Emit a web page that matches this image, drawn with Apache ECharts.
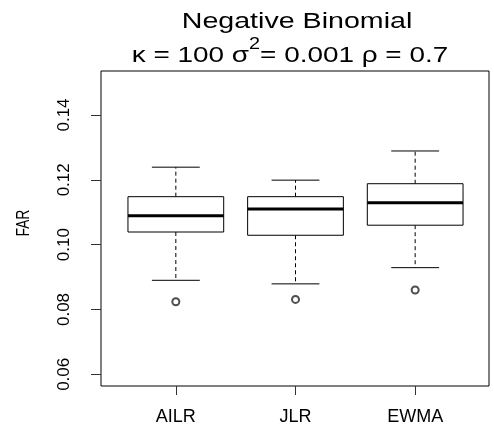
<!DOCTYPE html>
<html>
<head>
<meta charset="utf-8">
<script src="https://cdn.jsdelivr.net/npm/echarts@6/dist/echarts.min.js"></script>
<style>
html,body{margin:0;padding:0;background:#fff;}
#chart{width:494px;height:432px;}
</style>
</head>
<body>
<div id="chart"></div>
<script>
// ---- data ----
var categories = ['AILR', 'JLR', 'EWMA'];
var lowerWhisker = [0.0890, 0.0879, 0.0929];
var q1 = [0.1039, 0.1029, 0.1060];
var median = [0.1089, 0.1110, 0.1129];
var q3 = [0.1148, 0.1148, 0.1188];
var upperWhisker = [0.1239, 0.1199, 0.1289];
var outliers = [0.0824, 0.0831, 0.0860];
var yTicks = [0.06, 0.08, 0.10, 0.12, 0.14];
var titleLine1 = 'Negative Binomial';
var titleLine2 = ['\u03ba = 100 \u03c3', '2', '= 0.001 \u03c1 = 0.7'];
var yName = 'FAR';

var boxData = categories.map(function (c, i) {
  return [i, lowerWhisker[i], q1[i], median[i], q3[i], upperWhisker[i]];
});
var outlierData = outliers.map(function (v, i) { return [i, v]; });

var FONT = 'Liberation Sans, Arial, Helvetica, sans-serif';

function renderBox(params, api) {
  var x = api.value(0);
  var pLow = api.coord([x, api.value(1)]);
  var pQ1 = api.coord([x, api.value(2)]);
  var pMed = api.coord([x, api.value(3)]);
  var pQ3 = api.coord([x, api.value(4)]);
  var pHigh = api.coord([x, api.value(5)]);
  var band = api.size([1, 0])[0];
  var boxW = band * 0.8;
  var capW = boxW * 0.5;
  var cx = pMed[0];
  var dash = { stroke: '#000', lineWidth: 1, lineDash: [4, 3] };
  var solid = { stroke: '#000', lineWidth: 1 };
  return {
    type: 'group',
    children: [
      { type: 'line', shape: { x1: cx, y1: pQ3[1], x2: cx, y2: pHigh[1] }, style: dash },
      { type: 'line', shape: { x1: cx, y1: pQ1[1], x2: cx, y2: pLow[1] }, style: dash },
      { type: 'line', shape: { x1: cx - capW / 2, y1: pHigh[1], x2: cx + capW / 2, y2: pHigh[1] }, style: solid },
      { type: 'line', shape: { x1: cx - capW / 2, y1: pLow[1], x2: cx + capW / 2, y2: pLow[1] }, style: solid },
      { type: 'rect', shape: { x: cx - boxW / 2, y: pQ3[1], width: boxW, height: pQ1[1] - pQ3[1] },
        style: { fill: '#fff', stroke: '#000', lineWidth: 1 } },
      { type: 'line', shape: { x1: cx - boxW / 2, y1: pMed[1], x2: cx + boxW / 2, y2: pMed[1] },
        style: { stroke: '#000', lineWidth: 3 } }
    ]
  };
}

var chart = echarts.init(document.getElementById('chart'), null, { renderer: 'canvas' });
chart.setOption({
  backgroundColor: '#fff',
  animation: false,
  grid: [
    { left: 116, width: 359, top: 115, height: 259.3, show: false },
    { left: 101, width: 388, top: 71, height: 315, show: true, borderColor: '#000', borderWidth: 1, backgroundColor: 'transparent' }
  ],
  xAxis: [
    { type: 'category', gridIndex: 0, data: categories, offset: 11.7,
      axisLine: { show: false },
      axisTick: { show: true, alignWithLabel: true, length: 9, lineStyle: { color: '#333' } },
      axisLabel: { margin: 22, fontFamily: FONT, fontSize: 18, color: '#000' } },
    { type: 'value', gridIndex: 1, show: false }
  ],
  yAxis: [
    { type: 'value', gridIndex: 0, min: yTicks[0], max: yTicks[yTicks.length - 1], interval: 0.02, offset: 15,
      axisLine: { show: false },
      splitLine: { show: false },
      axisTick: { show: true, length: 10, lineStyle: { color: '#333' } },
      axisLabel: { rotate: 90, margin: 28, fontFamily: FONT, fontSize: 17, color: '#000',
        formatter: function (v) { return v.toFixed(2); } } },
    { type: 'value', gridIndex: 1, show: false }
  ],
  graphic: [
    { type: 'text', x: 297, y: 22, scaleX: 1.3,
      style: { text: titleLine1, font: '22px ' + FONT, fill: '#000', textAlign: 'center', textVerticalAlign: 'middle' } },
    { type: 'text', x: 290, y: 56, scaleX: 1.24,
      style: {
        text: '{a|' + titleLine2[0] + '}{s|' + titleLine2[1] + '}{a|' + titleLine2[2] + '}',
        textAlign: 'center', textVerticalAlign: 'middle',
        rich: {
          a: { font: '22.5px ' + FONT, fill: '#000', lineHeight: 38, verticalAlign: 'middle' },
          s: { font: '16px ' + FONT, fill: '#000', lineHeight: 16, verticalAlign: 'top' }
        }
      } },
    { type: 'text', x: 24, y: 223, rotation: Math.PI / 2, scaleX: 0.75,
      style: { text: yName, font: '18px ' + FONT, fill: '#000', textAlign: 'center', textVerticalAlign: 'middle' } }
  ],
  series: [
    { type: 'custom', xAxisIndex: 0, yAxisIndex: 0, data: boxData, renderItem: renderBox,
      encode: { x: 0, y: [1, 2, 3, 4, 5] } },
    { type: 'scatter', xAxisIndex: 0, yAxisIndex: 0, data: outlierData, symbol: 'emptyCircle', symbolSize: 7,
      itemStyle: { color: '#222', borderWidth: 1 } }
  ]
});
</script>
</body>
</html>
